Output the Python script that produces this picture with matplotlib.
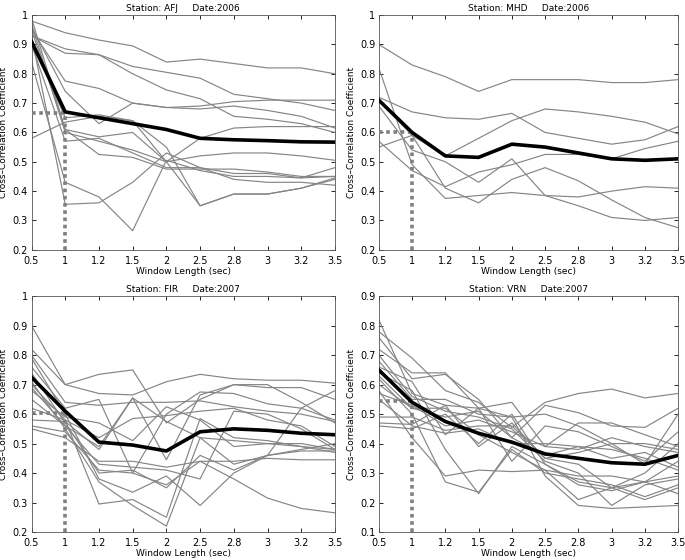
"""
Cross-correlation coefficient vs window length, four stations.
"""
import numpy as np
import matplotlib
matplotlib.use("Agg")
import matplotlib.pyplot as plt

window_labels = ["0.5", "1", "1.2", "1.5", "2", "2.5", "2.8", "3", "3.2", "3.5"]

titles = [
    "Station: AFJ     Date:2006",
    "Station: MHD     Date:2006",
    "Station: FIR     Date:2007",
    "Station: VRN     Date:2007",
]

afj_mean = [0.91, 0.67, 0.65, 0.63, 0.61, 0.58, 0.575, 0.572, 0.568, 0.567]
afj_events = [
    [0.98, 0.94, 0.915, 0.895, 0.84, 0.85, 0.835, 0.82, 0.82, 0.80],
    [0.93, 0.885, 0.865, 0.825, 0.805, 0.785, 0.73, 0.715, 0.70, 0.675],
    [0.93, 0.87, 0.865, 0.80, 0.745, 0.715, 0.655, 0.645, 0.63, 0.60],
    [0.95, 0.775, 0.75, 0.70, 0.685, 0.69, 0.705, 0.71, 0.71, 0.71],
    [0.58, 0.635, 0.655, 0.64, 0.50, 0.35, 0.39, 0.39, 0.41, 0.445],
    [0.96, 0.74, 0.63, 0.70, 0.685, 0.68, 0.69, 0.675, 0.655, 0.615],
    [0.99, 0.61, 0.585, 0.60, 0.50, 0.52, 0.53, 0.53, 0.52, 0.505],
    [0.92, 0.65, 0.66, 0.64, 0.55, 0.35, 0.39, 0.39, 0.41, 0.44],
    [0.90, 0.57, 0.58, 0.53, 0.48, 0.48, 0.44, 0.43, 0.43, 0.42],
    [0.84, 0.43, 0.38, 0.265, 0.505, 0.47, 0.45, 0.45, 0.445, 0.48],
    [0.93, 0.355, 0.36, 0.43, 0.53, 0.48, 0.46, 0.46, 0.445, 0.45],
    [0.95, 0.61, 0.525, 0.515, 0.475, 0.475, 0.475, 0.465, 0.45, 0.45],
    [0.97, 0.60, 0.57, 0.54, 0.50, 0.58, 0.615, 0.62, 0.62, 0.62],
]

mhd_mean = [0.71, 0.60, 0.52, 0.515, 0.56, 0.55, 0.53, 0.51, 0.505, 0.51]
mhd_events = [
    [0.90, 0.83, 0.79, 0.74, 0.78, 0.78, 0.78, 0.77, 0.77, 0.78],
    [0.72, 0.67, 0.65, 0.645, 0.665, 0.60, 0.58, 0.56, 0.575, 0.62],
    [0.55, 0.59, 0.52, 0.58, 0.64, 0.68, 0.67, 0.655, 0.635, 0.595],
    [0.82, 0.49, 0.375, 0.385, 0.395, 0.385, 0.38, 0.40, 0.415, 0.41],
    [0.69, 0.54, 0.50, 0.43, 0.51, 0.385, 0.35, 0.31, 0.30, 0.31],
    [0.57, 0.47, 0.415, 0.465, 0.49, 0.525, 0.525, 0.51, 0.545, 0.57],
    [0.71, 0.59, 0.41, 0.36, 0.44, 0.48, 0.435, 0.37, 0.31, 0.275],
]

fir_mean = [0.725, 0.61, 0.505, 0.495, 0.475, 0.54, 0.55, 0.545, 0.535, 0.53]
fir_events = [
    [0.90, 0.70, 0.735, 0.75, 0.57, 0.65, 0.70, 0.70, 0.64, 0.57],
    [0.82, 0.70, 0.67, 0.665, 0.71, 0.735, 0.72, 0.715, 0.715, 0.705],
    [0.80, 0.64, 0.63, 0.64, 0.64, 0.645, 0.625, 0.61, 0.60, 0.575],
    [0.76, 0.62, 0.65, 0.40, 0.60, 0.675, 0.67, 0.635, 0.62, 0.58],
    [0.68, 0.59, 0.57, 0.51, 0.625, 0.58, 0.49, 0.50, 0.50, 0.48],
    [0.69, 0.56, 0.49, 0.655, 0.445, 0.665, 0.70, 0.69, 0.69, 0.65],
    [0.62, 0.58, 0.52, 0.585, 0.595, 0.61, 0.62, 0.58, 0.56, 0.49],
    [0.65, 0.56, 0.43, 0.42, 0.41, 0.38, 0.61, 0.60, 0.55, 0.48],
    [0.55, 0.52, 0.44, 0.44, 0.42, 0.44, 0.44, 0.45, 0.445, 0.445],
    [0.56, 0.54, 0.41, 0.40, 0.36, 0.44, 0.38, 0.315, 0.28, 0.265],
    [0.70, 0.58, 0.295, 0.31, 0.25, 0.585, 0.52, 0.51, 0.49, 0.47],
    [0.71, 0.55, 0.37, 0.29, 0.22, 0.52, 0.43, 0.46, 0.48, 0.50],
    [0.79, 0.60, 0.38, 0.335, 0.39, 0.29, 0.40, 0.46, 0.62, 0.68],
    [0.58, 0.575, 0.48, 0.655, 0.575, 0.52, 0.51, 0.50, 0.49, 0.48],
    [0.74, 0.57, 0.40, 0.41, 0.35, 0.46, 0.41, 0.46, 0.475, 0.475],
]

vrn_mean = [0.65, 0.54, 0.475, 0.435, 0.405, 0.365, 0.35, 0.335, 0.33, 0.36]
vrn_events = [
    [0.82, 0.57, 0.53, 0.52, 0.49, 0.29, 0.19, 0.18, 0.185, 0.19],
    [0.78, 0.69, 0.58, 0.54, 0.455, 0.54, 0.57, 0.585, 0.555, 0.57],
    [0.76, 0.62, 0.635, 0.55, 0.42, 0.53, 0.505, 0.46, 0.455, 0.52],
    [0.72, 0.64, 0.64, 0.52, 0.54, 0.39, 0.47, 0.47, 0.43, 0.39],
    [0.68, 0.55, 0.55, 0.50, 0.49, 0.50, 0.46, 0.40, 0.33, 0.50],
    [0.66, 0.61, 0.43, 0.52, 0.34, 0.46, 0.44, 0.39, 0.34, 0.44],
    [0.64, 0.58, 0.38, 0.23, 0.39, 0.33, 0.27, 0.25, 0.30, 0.40],
    [0.62, 0.50, 0.27, 0.235, 0.38, 0.30, 0.28, 0.26, 0.22, 0.26],
    [0.60, 0.52, 0.52, 0.43, 0.37, 0.31, 0.21, 0.25, 0.21, 0.25],
    [0.58, 0.42, 0.29, 0.31, 0.305, 0.31, 0.29, 0.29, 0.27, 0.29],
    [0.55, 0.46, 0.435, 0.45, 0.40, 0.40, 0.39, 0.35, 0.37, 0.32],
    [0.49, 0.49, 0.445, 0.46, 0.46, 0.35, 0.37, 0.40, 0.40, 0.38],
    [0.47, 0.465, 0.53, 0.39, 0.47, 0.35, 0.33, 0.25, 0.27, 0.23],
    [0.46, 0.45, 0.50, 0.40, 0.50, 0.33, 0.26, 0.24, 0.27, 0.34],
    [0.70, 0.56, 0.51, 0.49, 0.45, 0.34, 0.30, 0.19, 0.26, 0.28],
    [0.63, 0.52, 0.49, 0.51, 0.42, 0.36, 0.39, 0.38, 0.35, 0.31],
    [0.57, 0.53, 0.46, 0.48, 0.44, 0.39, 0.38, 0.42, 0.39, 0.37],
]

# value read at the 1 sec window (dotted guide)
guide_values = [0.665, 0.60, 0.605, 0.545]
y_ranges = [(0.2, 1.0), (0.2, 1.0), (0.2, 1.0), (0.1, 0.9)]

panels = [
    (afj_events, afj_mean),
    (mhd_events, mhd_mean),
    (fir_events, fir_mean),
    (vrn_events, vrn_mean),
]

# axes rectangles in figure fractions (left, bottom, width, height)
RECTS = [
    (0.046, 0.554, 0.443, 0.419),
    (0.553, 0.554, 0.437, 0.419),
    (0.046, 0.050, 0.443, 0.421),
    (0.553, 0.050, 0.437, 0.421),
]

fig = plt.figure(figsize=(6.85, 5.6), dpi=100)
x = np.arange(len(window_labels))

for i, ((events, mean), title, (y0, y1), guide) in enumerate(
        zip(panels, titles, y_ranges, guide_values)):
    ax = fig.add_axes(RECTS[i])
    for ev in events:
        ax.plot(x, ev, color="#858585", lw=0.85, zorder=2)
    ax.plot(x, mean, color="black", lw=2.6, zorder=4)

    # dotted guide lines at 1 sec
    ax.plot([x[1], x[1]], [y0, guide], color="#808080", lw=2.6,
            ls=(0, (1, 1)), zorder=3)
    ax.plot([x[0], x[1]], [guide, guide], color="#808080", lw=2.6,
            ls=(0, (1, 1)), zorder=3)

    ax.set_xlim(x[0], x[-1])
    ax.set_ylim(y0, y1)
    ax.set_xticks(x)
    ax.set_xticklabels(window_labels)
    yt = np.round(np.arange(y0, y1 + 0.001, 0.1), 1)
    ax.set_yticks(yt)
    ax.set_yticklabels([f"{v:g}" for v in yt])
    ax.tick_params(direction="in", top=True, right=True, labelsize=7,
                   length=3, width=0.6)
    ax.tick_params(axis="x", pad=4.5)
    ax.tick_params(axis="y", pad=2.5)
    for sp in ax.spines.values():
        sp.set_linewidth(0.6)
        sp.set_color("#555555")

    ax.set_title(title, fontsize=6.5, pad=3)
    ax.set_xlabel("Window Length (sec)", fontsize=6.5, labelpad=0.5)
    ax.set_ylabel("Cross\u2013Correlation Coefficient", fontsize=6.5, labelpad=3)

plt.savefig("out.png", dpi=100)
plt.close()
